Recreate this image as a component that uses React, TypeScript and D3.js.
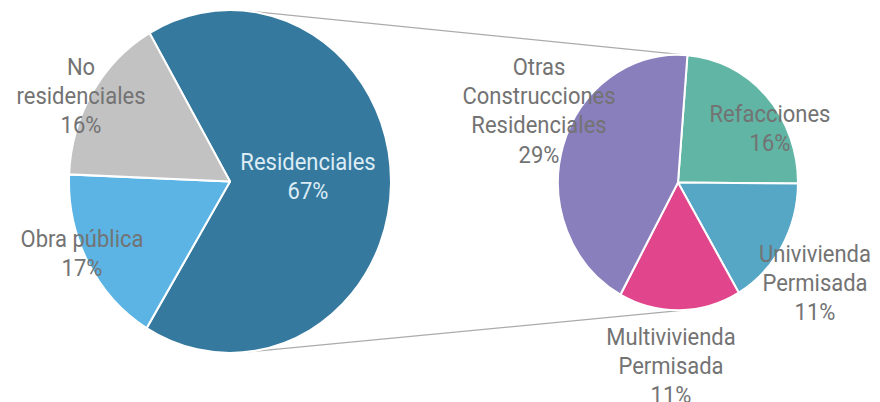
import React from "react";
import * as d3 from "d3";

// ---- data ----
const mainCategories = ["Residenciales", "Obra pública", "No residenciales"];
const mainValues = [67, 17, 16];
const mainLabelLines = [["Residenciales"], ["Obra pública"], ["No", "residenciales"]];
const mainColors = ["#36799f", "#5bb4e4", "#c2c2c2"];

const subCategories = [
  "Refacciones",
  "Univivienda Permisada",
  "Multivivienda Permisada",
  "Otras Construcciones Residenciales",
];
const subValues = [16, 11, 11, 29];
const subLabelLines = [
  ["Refacciones"],
  ["Univivienda", "Permisada"],
  ["Multivivienda", "Permisada"],
  ["Otras", "Construcciones", "Residenciales"],
];
const subColors = ["#61b5a4", "#56a6c5", "#e1458b", "#8a7fbd"];

// ---- layout (positions / styles, separate from data) ----
const W = 880;
const H = 402;
const YSTRETCH = 1.065;
const mainPie = { cx: 230, cy: 181.5, r: 161, start: -30 };
const subPie = { cx: 678, cy: 182.5, r: 120, start: 4.5 };
// label anchor offsets (first baseline, centred) relative to pie centre
const mainLabelOffsets = [
  [78, -11.5],
  [-148, 65.5],
  [-149, -106.5],
];
const subLabelOffsets = [
  [92, -60.5],
  [137, 79.5],
  [-7, 162],
  [-139, -107.5],
];
const mainLabelColors = ["#dcecf5", "#737373", "#737373"];
const LINE_H = 29.2;
const FONT = 22;
const TANGENT_DEG = 5.5;

const rad = (d: number) => (d * Math.PI) / 180;

function PieGroup({
  values,
  colors,
  cfg,
}: {
  values: number[];
  colors: string[];
  cfg: { cx: number; cy: number; r: number; start: number };
}) {
  const pie = d3
    .pie<number>()
    .sort(null)
    .value((d) => d)
    .startAngle(rad(cfg.start))
    .endAngle(rad(cfg.start) + 2 * Math.PI);
  const arc = d3.arc<d3.PieArcDatum<number>>().innerRadius(0).outerRadius(cfg.r);
  const arcs = pie(values);
  return (
    <g transform={`translate(${cfg.cx},${cfg.cy}) scale(1,${YSTRETCH})`}>
      {arcs.map((a, i) => (
        <path key={i} d={arc(a) || ""} fill={colors[i]} stroke="#ffffff" strokeWidth={2} strokeLinejoin="round" />
      ))}
    </g>
  );
}

function Label({
  x,
  y,
  lines,
  pct,
  color,
}: {
  x: number;
  y: number;
  lines: string[];
  pct: string;
  color: string;
}) {
  const all = [...lines, pct];
  return (
    <text
      transform={`translate(${x},${y}) scale(1,${YSTRETCH})`}
      textAnchor="middle"
      fontFamily="Roboto, 'Noto Sans', sans-serif"
      fontSize={FONT}
      fill={color}
    >
      {all.map((l, i) => (
        <tspan key={i} x={0} y={(i * LINE_H) / YSTRETCH}>
          {l}
        </tspan>
      ))}
    </text>
  );
}

function ellipsePoint(cfg: { cx: number; cy: number; r: number }, deg: number) {
  return [cfg.cx + cfg.r * Math.sin(rad(deg)), cfg.cy - cfg.r * YSTRETCH * Math.cos(rad(deg))];
}

export default function App() {
  const fmt = d3.format(".0f");
  const topA = ellipsePoint(mainPie, TANGENT_DEG);
  const topB = ellipsePoint(subPie, TANGENT_DEG);
  const botA = ellipsePoint(mainPie, 180 - TANGENT_DEG);
  const botB = ellipsePoint(subPie, 180 - TANGENT_DEG);
  const line = d3.line();
  return (
    <svg
      width={W}
      height={H}
      viewBox={`0 0 ${W} ${H}`}
      style={{ position: "absolute", left: 0, top: 0, background: "#ffffff" }}
    >
      <path d={line([topA as [number, number], topB as [number, number]]) || ""} stroke="#ababab" strokeWidth={1.3} fill="none" />
      <path d={line([botA as [number, number], botB as [number, number]]) || ""} stroke="#ababab" strokeWidth={1.3} fill="none" />
      <PieGroup values={mainValues} colors={mainColors} cfg={mainPie} />
      <PieGroup values={subValues} colors={subColors} cfg={subPie} />
      {mainCategories.map((c, i) => (
        <Label
          key={c}
          x={mainPie.cx + mainLabelOffsets[i][0]}
          y={mainPie.cy + mainLabelOffsets[i][1]}
          lines={mainLabelLines[i]}
          pct={`${fmt(mainValues[i])}%`}
          color={mainLabelColors[i]}
        />
      ))}
      {subCategories.map((c, i) => (
        <Label
          key={c}
          x={subPie.cx + subLabelOffsets[i][0]}
          y={subPie.cy + subLabelOffsets[i][1]}
          lines={subLabelLines[i]}
          pct={`${fmt(subValues[i])}%`}
          color="#737373"
        />
      ))}
    </svg>
  );
}
